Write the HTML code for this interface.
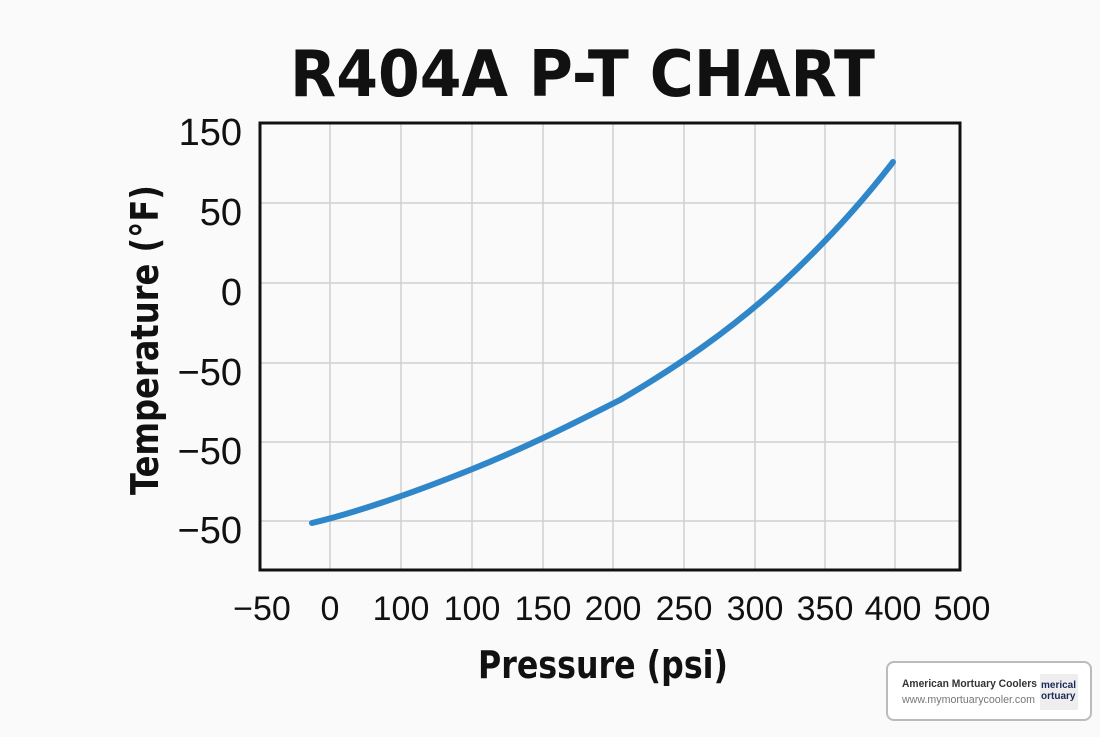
<!DOCTYPE html>
<html><head><meta charset="utf-8"><style>
body{margin:0;background:#fafafa;width:1100px;height:733px;overflow:hidden;font-family:"DejaVu Sans","Liberation Sans",sans-serif;}
</style></head><body>
<svg width="1100" height="733" xmlns="http://www.w3.org/2000/svg">
<rect width="1100" height="733" fill="#fafafa"/>
<text x="290" y="96" textLength="585" lengthAdjust="spacingAndGlyphs" font-family="DejaVu Sans" font-weight="bold" font-size="64" fill="#111">R404A P-T CHART</text>
<g stroke="#cfcfcf" stroke-width="1.5">
<line x1="330" y1="123" x2="330" y2="570"/><line x1="401" y1="123" x2="401" y2="570"/>
<line x1="472" y1="123" x2="472" y2="570"/><line x1="543" y1="123" x2="543" y2="570"/>
<line x1="613" y1="123" x2="613" y2="570"/><line x1="684" y1="123" x2="684" y2="570"/>
<line x1="755" y1="123" x2="755" y2="570"/><line x1="825" y1="123" x2="825" y2="570"/>
<line x1="895" y1="123" x2="895" y2="570"/>
<line x1="260" y1="203" x2="960" y2="203"/><line x1="260" y1="283" x2="960" y2="283"/>
<line x1="260" y1="363" x2="960" y2="363"/><line x1="260" y1="442" x2="960" y2="442"/>
<line x1="260" y1="521" x2="960" y2="521"/>
</g>
<rect x="260" y="123" width="700" height="447" fill="none" stroke="#111" stroke-width="3"/>
<path d="M312,523 C350,514 400,498 470,470 C530,446 580,420 620,400 C680,365 730,330 780,285 C820,248 860,205 893,162" fill="none" stroke="#2f86c8" stroke-width="6" stroke-linecap="round"/>
<g font-family="Liberation Sans" font-size="38" fill="#111" text-anchor="end">
<text x="242" y="145">150</text><text x="242" y="225">50</text><text x="242" y="305">0</text>
<text x="242" y="385">−50</text><text x="242" y="464">−50</text><text x="242" y="543">−50</text>
</g>
<g font-family="Liberation Sans" font-size="34" fill="#111" text-anchor="middle">
<text x="262" y="620">−50</text><text x="330" y="620">0</text><text x="401" y="620">100</text>
<text x="472" y="620">100</text><text x="543" y="620">150</text><text x="613" y="620">200</text>
<text x="684" y="620">250</text><text x="755" y="620">300</text><text x="825" y="620">350</text>
<text x="893" y="620">400</text><text x="962" y="620">500</text>
</g>
<text x="478" y="678" textLength="250" lengthAdjust="spacingAndGlyphs" font-size="38" font-weight="bold" fill="#111">Pressure (psi)</text>
<text transform="translate(158,340) rotate(-90)" x="-155" textLength="310" lengthAdjust="spacingAndGlyphs" font-size="38" font-weight="bold" fill="#111">Temperature (°F)</text>
<rect x="887" y="662" width="204" height="58" rx="7" fill="#fff" stroke="#bbb" stroke-width="2"/>
<text x="902" y="687" textLength="135" lengthAdjust="spacingAndGlyphs" font-family="Liberation Sans" font-weight="bold" font-size="11" fill="#333">American Mortuary Coolers</text>
<text x="902" y="703" textLength="133" lengthAdjust="spacingAndGlyphs" font-family="Liberation Sans" font-size="11" fill="#777">www.mymortuarycooler.com</text>
<rect x="1040" y="674" width="38" height="36" fill="#eee"/>
<text x="1041" y="688" font-family="Liberation Sans" font-weight="bold" font-size="10" fill="#1a2a5a">merical</text>
<text x="1041" y="699" font-family="Liberation Sans" font-weight="bold" font-size="10" fill="#1a2a5a">ortuary</text>
</svg>
</body></html>
